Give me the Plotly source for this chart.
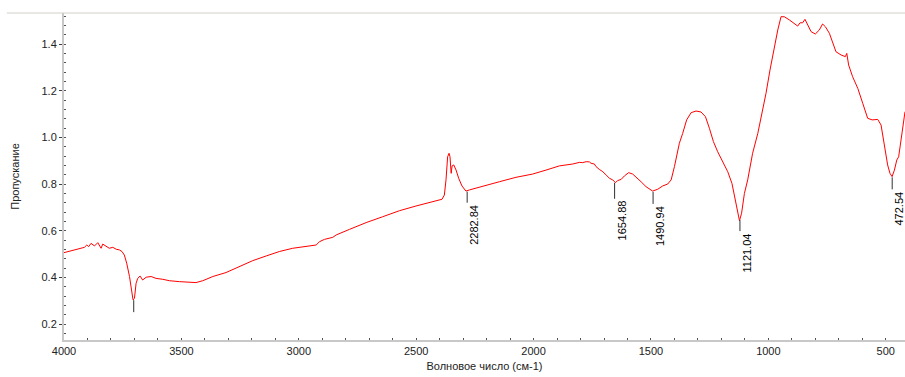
import numpy as np
import plotly.graph_objects as go

# Wavenumber (cm-1), descending
wavenumber = [
    4001, 3963, 3934, 3913, 3903, 3895, 3885, 3870, 3856, 3849, 3842, 3835, 3821, 3807, 3792,
    3778, 3764, 3753, 3743, 3733, 3721, 3713, 3706, 3700, 3693, 3686, 3676, 3665, 3650, 3629,
    3608, 3579, 3551, 3508, 3466, 3438, 3409, 3366, 3310, 3253, 3196, 3139, 3083, 3026,
    2997, 2941, 2926, 2912, 2891, 2855, 2841, 2784, 2713, 2643, 2571, 2501, 2430, 2390,
    2380, 2373, 2366, 2360, 2356, 2351, 2347, 2340, 2330, 2319, 2305, 2288, 2273, 2217,
    2146, 2075, 2004, 1947, 1890, 1833, 1805, 1791, 1776, 1762, 1755, 1741, 1734, 1720,
    1705, 1691, 1677, 1663, 1651, 1642, 1627, 1613, 1595, 1578, 1561, 1542, 1521, 1493,
    1471, 1450, 1429, 1414, 1400, 1386, 1379, 1365, 1348, 1329, 1308, 1287, 1268, 1251,
    1234, 1216, 1194, 1173, 1155, 1141, 1131, 1123, 1114, 1102, 1088, 1067, 1045, 1024,
    1010, 993, 974, 960, 946, 932, 910, 889, 875, 865, 854, 844, 832, 818, 800, 783, 769,
    757, 740, 726, 712, 690, 672, 666, 658, 641, 619, 598, 577, 558, 534, 520, 506, 492,
    482, 473, 463, 453, 445, 435, 425, 418,
]
# Transmittance values
transmittance = [
    0.506, 0.515, 0.521, 0.529, 0.539, 0.532, 0.546, 0.535, 0.549, 0.535, 0.525, 0.543, 0.532, 0.525, 0.529,
    0.521, 0.518, 0.511, 0.496, 0.461, 0.404, 0.346, 0.304, 0.310, 0.375, 0.396, 0.406, 0.389, 0.401, 0.404,
    0.396, 0.392, 0.386, 0.382, 0.378, 0.378, 0.386, 0.404, 0.421, 0.446, 0.472, 0.492, 0.511, 0.525,
    0.529, 0.535, 0.539, 0.553, 0.563, 0.572, 0.582, 0.606, 0.635, 0.660, 0.686, 0.706, 0.723, 0.735,
    0.753, 0.818, 0.917, 0.932, 0.917, 0.846, 0.878, 0.882, 0.860, 0.825, 0.792, 0.770, 0.775, 0.789,
    0.810, 0.829, 0.843, 0.860, 0.878, 0.886, 0.893, 0.892, 0.896, 0.895, 0.889, 0.886, 0.875, 0.863,
    0.853, 0.839, 0.825, 0.818, 0.806, 0.815, 0.820, 0.835, 0.849, 0.843, 0.829, 0.810, 0.789, 0.770,
    0.778, 0.792, 0.800, 0.818, 0.875, 0.946, 0.975, 1.017, 1.075, 1.106, 1.113, 1.109, 1.089, 1.039,
    0.982, 0.939, 0.896, 0.853, 0.803, 0.732, 0.668, 0.643, 0.675, 0.760, 0.818, 0.932, 1.017, 1.117,
    1.189, 1.289, 1.389, 1.460, 1.517, 1.517, 1.503, 1.489, 1.477, 1.491, 1.491, 1.506, 1.481, 1.453, 1.443, 1.460, 1.486,
    1.474, 1.446, 1.410, 1.367, 1.353, 1.346, 1.360, 1.310, 1.260, 1.210, 1.146, 1.082, 1.075, 1.077, 1.053, 0.975, 0.882,
    0.846, 0.832, 0.860, 0.903, 0.917, 0.989, 1.067, 1.110,
]

# Peak picks
peak_positions = [3703, 2282.84, 1654.88, 1490.94, 1121.04, 472.54]
peak_labels = ["", "2282.84", "1654.88", "1490.94", "1121.04", "472.54"]
stick_px = [13, 12, 17, 13, 12, 13]

x_ticks = [4000, 3500, 3000, 2500, 2000, 1500, 1000, 500]
y_ticks = [0.2, 0.4, 0.6, 0.8, 1.0, 1.2, 1.4]

FONT = "Arial, Liberation Sans, sans-serif"

fig = go.Figure()
fig.add_trace(go.Scatter(
    x=wavenumber, y=transmittance, mode="lines",
    line=dict(color="#ff0000", width=1), hoverinfo="skip", showlegend=False,
))

wn_inc = np.array(wavenumber[::-1], dtype=float)
tr_inc = np.array(transmittance[::-1], dtype=float)
shapes = []
annotations = []
for pos, lab, L in zip(peak_positions, peak_labels, stick_px):
    yv = float(np.interp(pos, wn_inc, tr_inc))
    shapes.append(dict(
        type="line", xref="x", yref="y", ysizemode="pixel", yanchor=yv,
        x0=pos, x1=pos, y0=-1, y1=-L, line=dict(color="#303030", width=1),
    ))
    if lab:
        annotations.append(dict(
            x=pos, y=yv, xref="x", yref="y", text=lab, showarrow=False,
            textangle=-90, xanchor="left", yanchor="top", yshift=-(L + 1), xshift=0,
            font=dict(family=FONT, size=11, color="#000000"), borderpad=0,
        ))

# top frame line
shapes.append(dict(type="line", xref="paper", yref="paper", x0=-0.068, x1=1, y0=1, y1=1,
                   line=dict(color="#d4d0c8", width=1)))

fig.update_layout(
    width=905, height=377,
    margin=dict(l=64, r=0, t=13, b=37),
    paper_bgcolor="white", plot_bgcolor="white",
    font=dict(family=FONT, size=11, color="#222222"),
    shapes=shapes, annotations=annotations,
    showlegend=False,
)
fig.update_xaxes(
    range=[4000, 418], tickvals=x_ticks, ticktext=[str(v) for v in x_ticks],
    showgrid=False, zeroline=False, showline=True, linecolor="#c8c8c8", linewidth=2,
    ticks="inside", ticklen=2, tickcolor="#505050",
    minor=dict(dtick=100, ticks="inside", ticklen=2, tickcolor="#505050", showgrid=False),
    tickfont=dict(family=FONT, size=11, color="#222222"),
    title=dict(text="Волновое число (см-1)", standoff=6, font=dict(family=FONT, size=11, color="#222222")),
    automargin=False,
)
fig.update_yaxes(
    range=[0.132, 1.533], tickvals=y_ticks, ticktext=[f"{v:.1f}" for v in y_ticks],
    showgrid=False, zeroline=False, showline=True, linecolor="#c8c8c8", linewidth=2,
    ticks="outside", ticklen=3, tickcolor="#404040",
    minor=dict(dtick=0.04, ticks="inside", ticklen=2, tickcolor="#505050", showgrid=False),
    tickfont=dict(family=FONT, size=11, color="#222222"),
    title=dict(text="Пропускание", standoff=20, font=dict(family=FONT, size=11, color="#222222")),
    automargin=False,
)

fig.write_html(
    "out.html",
    config={"displayModeBar": False},
    post_script="document.body.style.margin='0px';document.body.style.overflow='hidden';",
)
